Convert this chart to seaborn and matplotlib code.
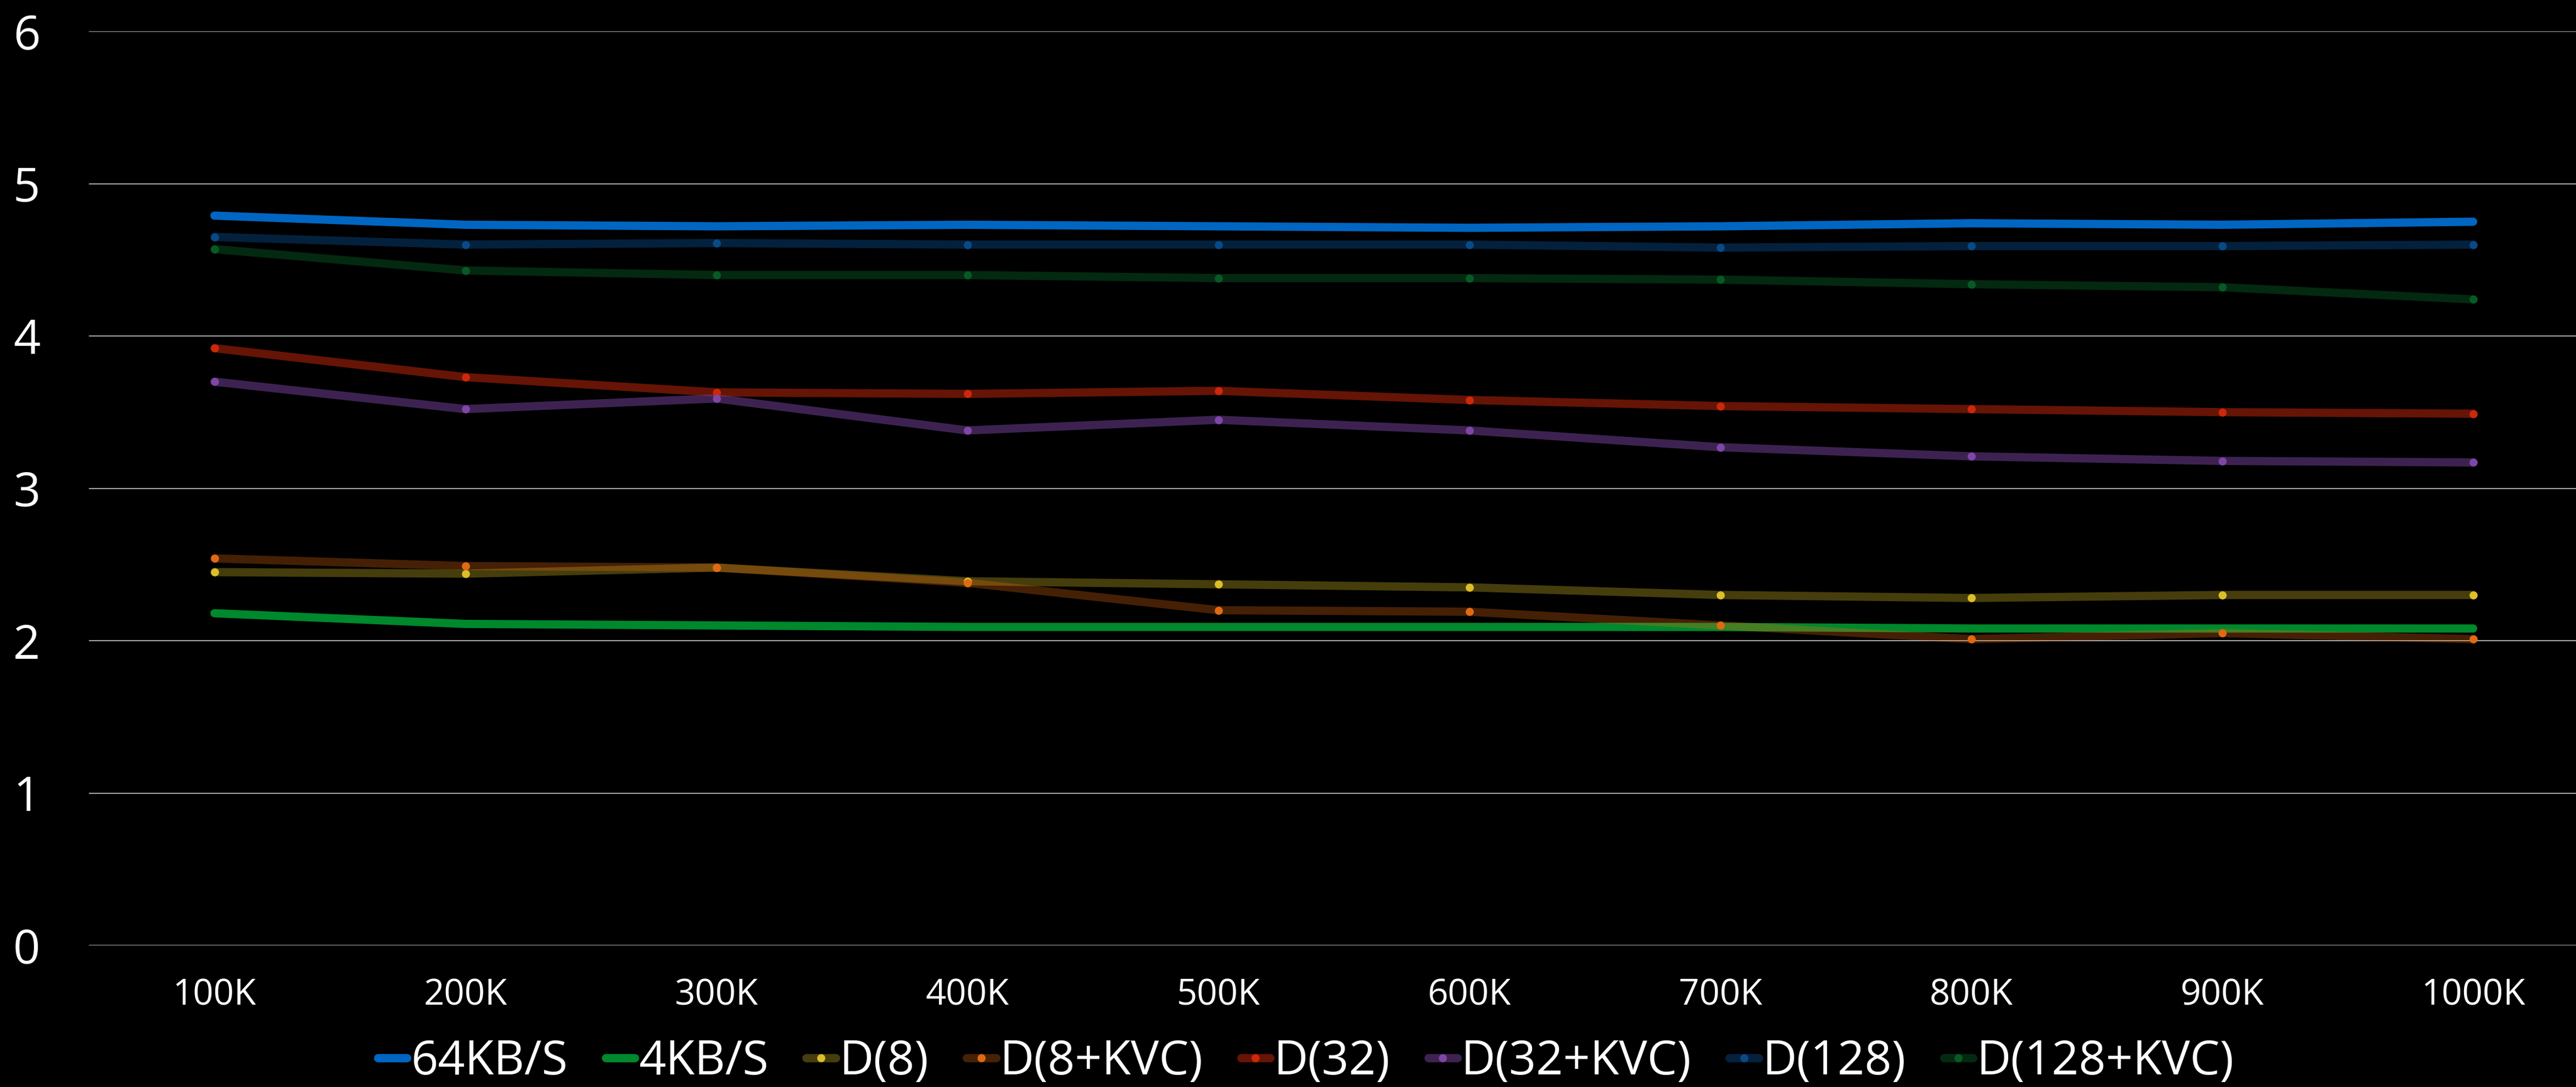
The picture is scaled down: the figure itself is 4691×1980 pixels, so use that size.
import numpy as np
import pandas as pd
import matplotlib
matplotlib.use("Agg")
import matplotlib.pyplot as plt
from matplotlib.colors import to_rgb
from matplotlib.lines import Line2D
import seaborn as sns

# ---- data -----------------------------------------------------------------
categories = ["100K", "200K", "300K", "400K", "500K", "600K", "700K", "800K", "900K", "1000K"]

kb64 = [4.79, 4.73, 4.72, 4.73, 4.72, 4.71, 4.72, 4.74, 4.73, 4.75]
kb4 = [2.18, 2.11, 2.10, 2.09, 2.09, 2.09, 2.09, 2.08, 2.08, 2.08]
d8 = [2.45, 2.44, 2.48, 2.39, 2.37, 2.35, 2.30, 2.28, 2.30, 2.30]
d8_kvc = [2.54, 2.49, 2.48, 2.38, 2.20, 2.19, 2.10, 2.01, 2.05, 2.01]
d32 = [3.92, 3.73, 3.63, 3.62, 3.64, 3.58, 3.54, 3.52, 3.50, 3.49]
d32_kvc = [3.70, 3.52, 3.59, 3.38, 3.45, 3.38, 3.27, 3.21, 3.18, 3.17]
d128 = [4.65, 4.60, 4.61, 4.60, 4.60, 4.60, 4.58, 4.59, 4.59, 4.60]
d128_kvc = [4.57, 4.43, 4.40, 4.40, 4.38, 4.38, 4.37, 4.34, 4.32, 4.24]

series_names = ["64KB/S", "4KB/S", "D(8)", "D(8+KVC)", "D(32)", "D(32+KVC)", "D(128)", "D(128+KVC)"]
series_values = [kb64, kb4, d8, d8_kvc, d32, d32_kvc, d128, d128_kvc]

# ---- styling per series: (base colour, line alpha, marker shown) -------------
styles = {
    "64KB/S":     ("#0066C2", 1.00, False),
    "4KB/S":      ("#00882C", 1.00, False),
    "D(8)":       ("#DCBE28", 0.32, True),
    "D(8+KVC)":   ("#E06A12", 0.31, True),
    "D(32)":      ("#CC280A", 0.50, True),
    "D(32+KVC)":  ("#7E46A6", 0.49, True),
    "D(128)":     ("#084A88", 0.45, True),
    "D(128+KVC)": ("#085A24", 0.46, True),
}

df = pd.DataFrame({
    "size": np.tile(categories, len(series_names)),
    "series": np.repeat(series_names, len(categories)),
    "value": np.concatenate(series_values),
})

sns.set_theme(style="dark")
plt.rcParams["font.family"] = ["Open Sans", "DejaVu Sans"]

W, H, DPI = 4691, 1980, 100
fig = plt.figure(figsize=(W / DPI, H / DPI), dpi=DPI, facecolor="black")
ax = fig.add_axes([162 / W, (H - 1722) / H, 1 - 162 / W, (1722 - 57) / H])
ax.set_facecolor("black")

LW = 10.8       # line width in points
MS = 10.6       # marker diameter in points

for name in series_names:
    color, alpha, show_marker = styles[name]
    sub = df[df["series"] == name]
    sns.lineplot(data=sub, x="size", y="value", ax=ax, color=color, alpha=alpha,
                 linewidth=LW, solid_capstyle="round", solid_joinstyle="round",
                 sort=False, legend=False)
    if show_marker:
        sns.scatterplot(data=sub, x="size", y="value", ax=ax, color=color,
                        s=MS ** 2, linewidth=0, legend=False, zorder=3)

ax.set_xlim(-0.5, 9.41)
ax.set_ylim(0, 6)
ax.set_yticks(range(0, 7))
ax.set_xlabel("")
ax.set_ylabel("")
ax.grid(False)
ax.yaxis.grid(True, color="#D9D9D9", linewidth=1.1)
ax.set_axisbelow(True)
for sp in ax.spines.values():
    sp.set_visible(False)
ax.tick_params(axis="y", length=0, pad=64, labelsize=62, labelcolor="white")
ax.tick_params(axis="x", length=0, pad=42, labelsize=47, labelcolor="white")

# legend handles: thick short stroke (dimmed as on black) with a bright dot
handles = []
for name in series_names:
    color, alpha, show_marker = styles[name]
    dim = tuple(c * alpha for c in to_rgb(color))
    if show_marker:
        h = Line2D([0], [0], color=dim, linewidth=LW, solid_capstyle="round",
                   marker="o", markersize=MS, markerfacecolor=color,
                   markeredgewidth=0)
    else:
        h = Line2D([0], [0], color=color, linewidth=LW, solid_capstyle="round")
    handles.append(h)

leg = fig.legend(handles, series_names, loc="center", bbox_to_anchor=(0.507, 0.023),
                 ncol=len(series_names), frameon=False, fontsize=62,
                 handlelength=0.62, handletextpad=0.08, columnspacing=0.8,
                 labelcolor="white")

fig.savefig("out.png", dpi=DPI, facecolor="black")
